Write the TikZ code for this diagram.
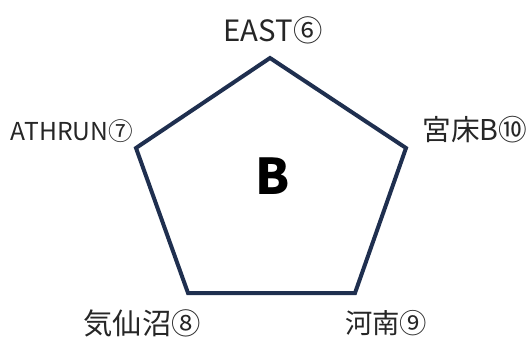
\documentclass[tikz,border=0pt]{standalone}
\usepackage{fontspec}
\setmainfont{Noto Sans CJK JP}
\newcommand{\fsz}[1]{\fontsize{#1}{#1}\selectfont}
\begin{document}
\begin{tikzpicture}[x=0.75pt,y=-0.75pt,
  lbl/.style={text=black!85, inner sep=0pt},
  edge/.style={draw=navy, line width=3pt, line join=miter}]
\definecolor{navy}{HTML}{1F2F4F}
\useasboundingbox (0,0) rectangle (531,338);
\coordinate (p1) at (270,58);
\coordinate (p2) at (406,148);
\coordinate (p3) at (355,293);
\coordinate (p4) at (188,293);
\coordinate (p5) at (136,148);
\draw[edge] (p1) -- (p2) -- (p3) -- (p4) -- (p5) -- cycle;
\node[font=\bfseries\fsz{37}, inner sep=0pt] (center) at (273,176) {B};
\node[lbl, font=\fsz{22}] (l1) at (273,30) {EAST⑥};
\node[lbl, font=\fsz{21.5}] (l2) at (475,130) {宮床B⑩};
\node[lbl, font=\fsz{20.5}] (l3) at (386,323) {河南⑨};
\node[lbl, font=\fsz{22}] (l4) at (142,323) {気仙沼⑧};
\node[lbl, font=\fsz{18.5}] (l5) at (72,131) {ATHRUN⑦};
\end{tikzpicture}
\end{document}
